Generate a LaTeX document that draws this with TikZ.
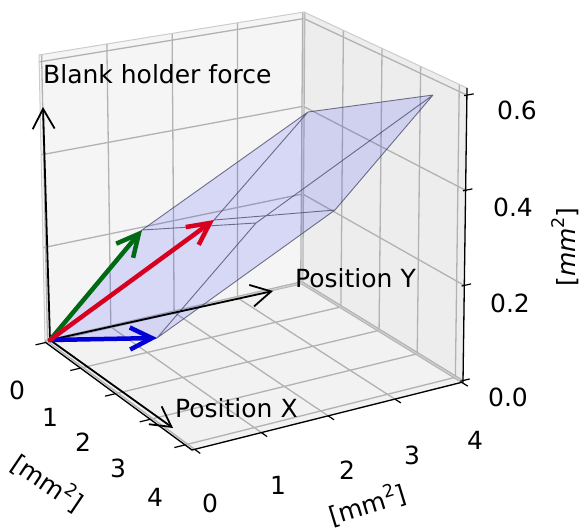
\documentclass[tikz,border=0pt]{standalone}
\usepackage{fontspec}
\setmainfont{DejaVu Sans}
\usetikzlibrary{arrows.meta}
\definecolor{edgecol}{RGB}{70,70,100}
\definecolor{vblue}{RGB}{0,0,215}
\definecolor{vgreen}{RGB}{0,105,20}
\definecolor{vred}{RGB}{215,0,30}
\newcommand\sqtwo{\raisebox{0.42em}{\fontsize{17.5}{17.5}\selectfont 2}}
% trilinear projection of a data point (x,y,z) into picture pixels
\newcommand\prjpt[4]{%
\pgfmathsetmacro\prU{(#2+0.02)/4.22}%
\pgfmathsetmacro\prV{(#3+0.04)/4.06}%
\pgfmathsetmacro\prW{(#4+0.003)/0.618}%
\pgfmathsetmacro\prX{(1-\prW)*((1-\prU)*(1-\prV)*45+\prU*(1-\prV)*192+(1-\prU)*\prV*302+\prU*\prV*463)+\prW*((1-\prU)*(1-\prV)*39+\prU*(1-\prV)*189+(1-\prU)*\prV*304+\prU*\prV*467)}%
\pgfmathsetmacro\prY{(1-\prW)*((1-\prU)*(1-\prV)*342+\prU*(1-\prV)*450+(1-\prU)*\prV*283+\prU*\prV*382)+\prW*((1-\prU)*(1-\prV)*55+\prU*(1-\prV)*139+(1-\prU)*\prV*12+\prU*\prV*88)}%
\coordinate (#1) at (\prX,\prY);}
\begin{document}
\begin{tikzpicture}[x=1pt,y=-1pt,
  font=\fontsize{25}{30}\selectfont,
  gridln/.style={draw=black!30, line width=1.3pt},
  paneedge/.style={draw=black!20, line width=1pt},
  axisln/.style={draw=black, line width=1.3pt},
  tickln/.style={draw=black, line width=1.2pt},
  facefill/.style={fill=blue, fill opacity=0.12},
  facet/.style={draw=edgecol, draw opacity=0.75, line width=0.9pt},
  blackvec/.style={draw=black, line width=1.8pt, -{Straight Barb[length=20pt,width=22pt]}},
  colvec/.style={line width=4.5pt, line cap=round, -{Straight Barb[length=22pt,width=22pt]}},
  ticklab/.style={inner sep=0pt, anchor=center},
  axlab/.style={inner sep=0pt, anchor=base west}]
\useasboundingbox (0,0) rectangle (580,530);
% box corners
\coordinate (c000) at (45,342);
\coordinate (c100) at (192,450);
\coordinate (c010) at (302,283);
\coordinate (c110) at (463,382);
\coordinate (c001) at (39,55);
\coordinate (c101) at (189,139);
\coordinate (c011) at (304,12);
\coordinate (c111) at (467,88);
% panes
\fill[black!4] (c000) -- (c010) -- (c011) -- (c001) -- cycle;
\fill[black!7] (c010) -- (c110) -- (c111) -- (c011) -- cycle;
\fill[black!5] (c000) -- (c100) -- (c110) -- (c010) -- cycle;
% grid lines
\foreach \k in {0,1,2,3,4} {
  \prjpt{ga}{\k}{-0.04}{-0.003}\prjpt{gb}{\k}{4.02}{-0.003}
  \draw[gridln] (ga) -- (gb);
  \prjpt{ga}{-0.02}{\k}{-0.003}\prjpt{gb}{4.2}{\k}{-0.003}
  \draw[gridln] (ga) -- (gb);
  \prjpt{ga}{-0.02}{\k}{-0.003}\prjpt{gb}{-0.02}{\k}{0.615}
  \draw[gridln] (ga) -- (gb);
  \prjpt{ga}{\k}{4.02}{-0.003}\prjpt{gb}{\k}{4.02}{0.615}
  \draw[gridln] (ga) -- (gb);
}
\foreach \z in {0,0.2,0.4,0.6} {
  \prjpt{ga}{-0.02}{-0.04}{\z}\prjpt{gb}{-0.02}{4.02}{\z}
  \draw[gridln] (ga) -- (gb);
  \prjpt{ga}{-0.02}{4.02}{\z}\prjpt{gb}{4.2}{4.02}{\z}
  \draw[gridln] (ga) -- (gb);
}
% pane edges
\draw[paneedge] (c000) -- (c010) -- (c011) -- (c001) -- cycle;
\draw[paneedge] (c010) -- (c110) -- (c111) -- (c011);
\draw[paneedge] (c000) -- (c100) -- (c110);
% axis lines
\draw[axisln] (c000) -- (c100) -- (c110) -- (c111);
% ticks
\foreach \k in {0,1,2,3,4} {
  \prjpt{ta}{\k}{-0.04}{-0.003}\prjpt{tb}{\k}{-0.2}{-0.003}
  \draw[tickln] (ta) -- (tb);
  \prjpt{ta}{4.2}{\k}{-0.003}\prjpt{tb}{4.36}{\k}{-0.003}
  \draw[tickln] (ta) -- (tb);
}
\foreach \z in {0,0.2,0.4,0.6} {
  \prjpt{ta}{4.2}{3.98}{\z}\prjpt{tb}{4.2}{4.12}{\z}
  \draw[tickln] (ta) -- (tb);
}
% parallelepiped spanned by the three vectors
\coordinate (O) at (50,340);
\coordinate (B) at (157,338);
\coordinate (G) at (142,230);
\coordinate (T) at (214,220);
\coordinate (BG) at (256,223);
\coordinate (BT) at (335,210);
\coordinate (GT) at (308,112);
\coordinate (BGT) at (433,95);
\fill[facefill] (O) -- (B) -- (BT) -- (BGT) -- (GT) -- (G) -- cycle;
\draw[facet] (O) -- (B) (O) -- (G) (O) -- (T) (B) -- (BG) (B) -- (BT)
  (G) -- (BG) (G) -- (GT) (T) -- (BT) (T) -- (GT) (BG) -- (BGT)
  (BT) -- (BGT) (GT) -- (BGT);
% coordinate arrows
\coordinate (Xt) at (173,428);
\coordinate (Yt) at (273,291);
\coordinate (Zt) at (43,107);
\draw[blackvec] (O) -- (Xt);
\draw[blackvec] (O) -- (Yt);
\draw[blackvec] (O) -- (Zt);
\draw[colvec, vblue] (O) -- (B);
\draw[colvec, vgreen] (O) -- (G);
\draw[colvec, vred] (O) -- (T);
% labels
\node[axlab] (lz) at (43,83) {Blank holder force};
\node[axlab] (ly) at (295,287) {Position Y};
\node[axlab] (lx) at (175,417) {Position X};
% tick labels
\node[ticklab] (x0) at (17,390) {0};
\node[ticklab] (x1) at (50,417) {1};
\node[ticklab] (x2) at (83,442) {2};
\node[ticklab] (x3) at (118,468) {3};
\node[ticklab] (x4) at (155,497) {4};
\node[ticklab] (y0) at (210,503) {0};
\node[ticklab] (y1) at (278,485) {1};
\node[ticklab] (y2) at (347,470) {2};
\node[ticklab] (y3) at (412,455) {3};
\node[ticklab] (y4) at (475,440) {4};
\node[ticklab] (z0) at (508,397) {0.0};
\node[ticklab] (z2) at (510,303) {0.2};
\node[ticklab] (z4) at (513,207) {0.4};
\node[ticklab] (z6) at (517,110) {0.6};
\node[inner sep=0pt, rotate=-34] (xl) at (48,482) {[mm\sqtwo]};
\node[inner sep=0pt, rotate=17] (yl) at (367,504) {[mm\sqtwo]};
\node[inner sep=0pt, rotate=90] (zl) at (565,247) {[\textit{mm}\sqtwo]};
\end{tikzpicture}
\end{document}
